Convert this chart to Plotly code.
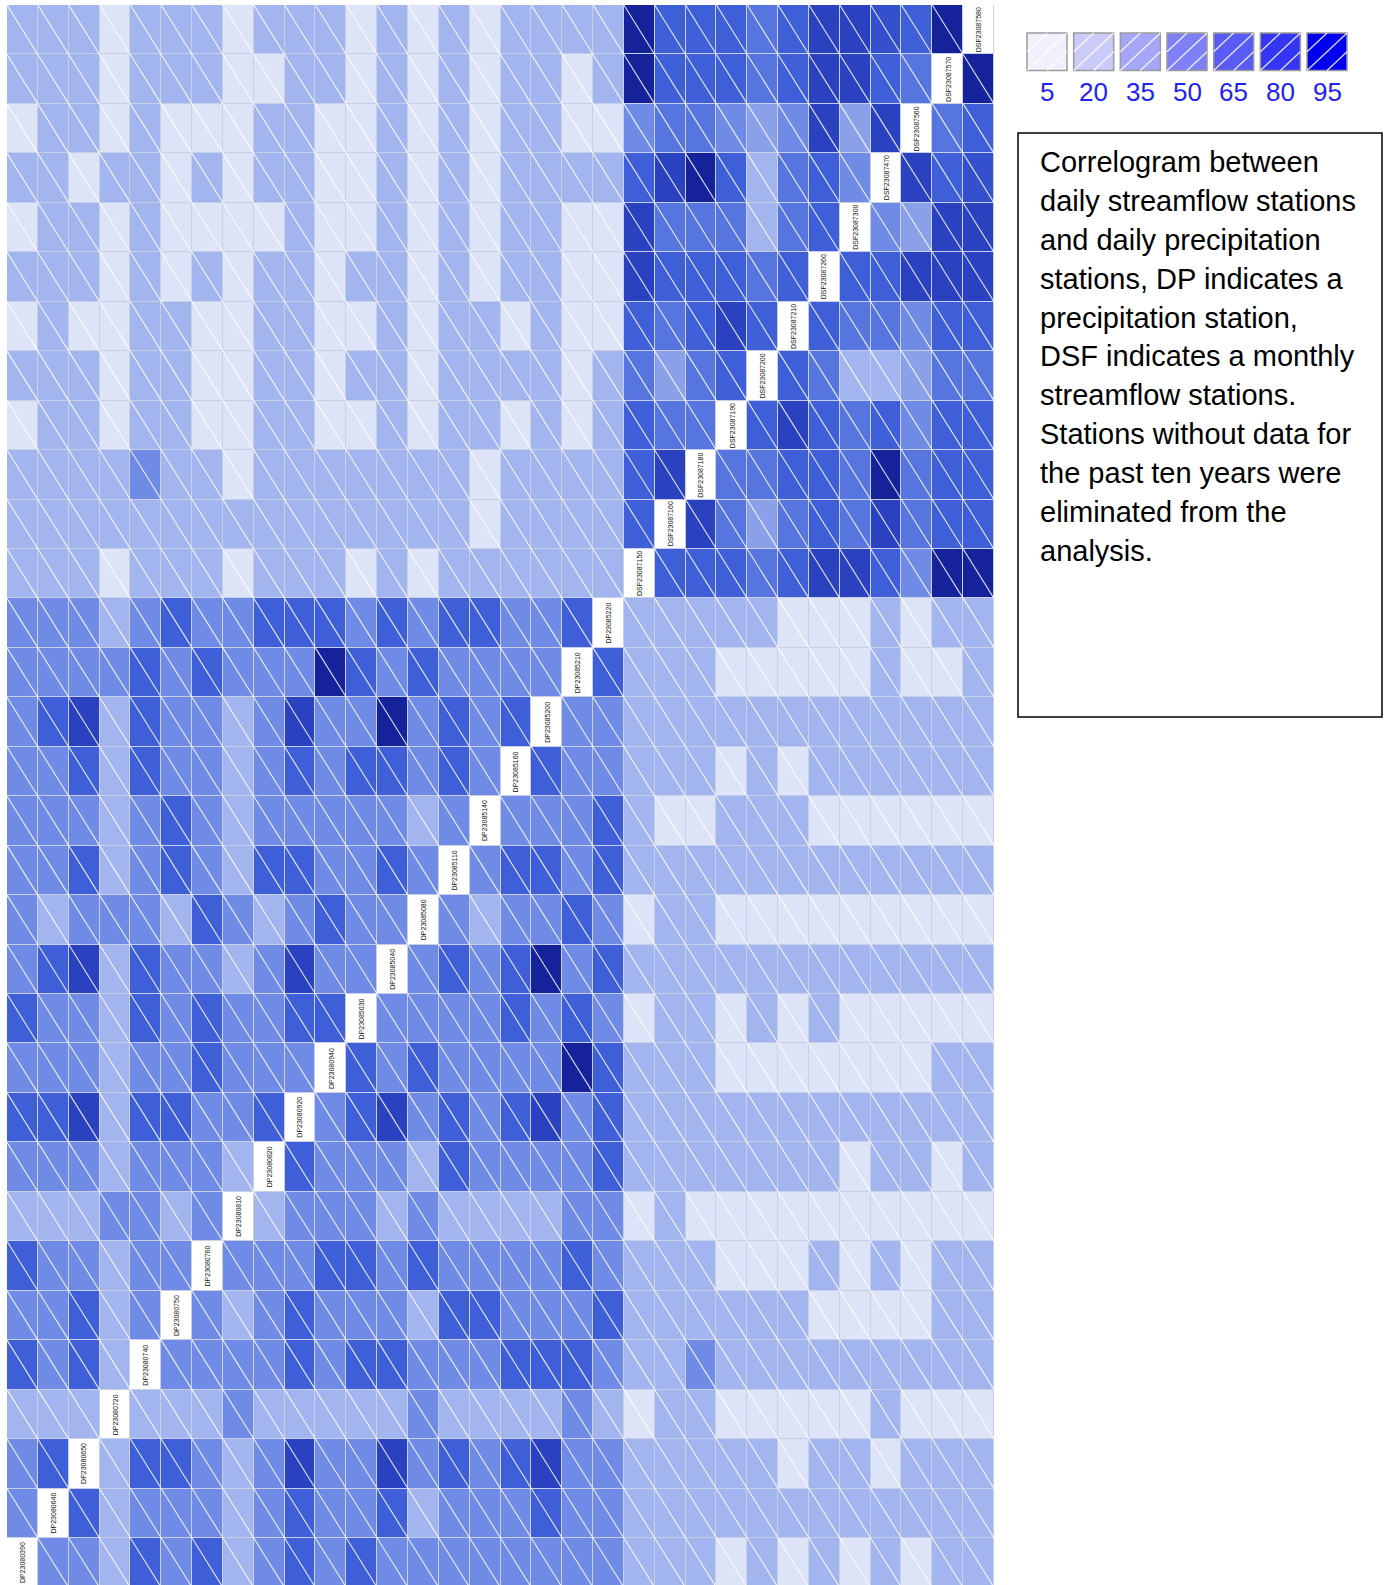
import plotly.graph_objects as go

# Station order along both axes (bottom-to-top on y, left-to-right on x)
stations = [
    "DP23080390", "DP23080640", "DP23080650", "DP23080720", "DP23080740",
    "DP23080750", "DP23080760", "DP23080810", "DP23080820", "DP23080920",
    "DP23080940", "DP23085030", "DP23085040", "DP23085080", "DP23085110",
    "DP23085140", "DP23085160", "DP23085200", "DP23085210", "DP23085220",
    "DSF23087150", "DSF23087160", "DSF23087180", "DSF23087190", "DSF23087200",
    "DSF23087210", "DSF23087260", "DSF23087300", "DSF23087470", "DSF23087560",
    "DSF23087570", "DSF23087580",
]

# Correlation (%) between precipitation stations; row i lists columns 0..i-1
dp_dp = [
    [45],
    [45, 60],
    [30, 30, 30],
    [60, 45, 60, 30],
    [45, 45, 60, 30, 45],
    [60, 45, 45, 30, 45, 45],
    [30, 30, 30, 45, 45, 30, 45],
    [45, 45, 45, 30, 45, 45, 45, 30],
    [60, 60, 73, 30, 60, 60, 45, 45, 60],
    [45, 45, 45, 30, 45, 45, 60, 45, 45, 45],
    [60, 45, 45, 30, 60, 45, 60, 45, 45, 60, 60],
    [45, 60, 73, 30, 60, 45, 45, 30, 45, 73, 45, 45],
    [45, 30, 45, 45, 45, 30, 60, 45, 30, 45, 60, 45, 45],
    [45, 45, 60, 30, 45, 60, 45, 30, 60, 60, 45, 45, 60, 45],
    [45, 45, 45, 30, 45, 60, 45, 30, 45, 45, 45, 45, 45, 30, 45],
    [45, 45, 60, 30, 60, 45, 45, 30, 45, 60, 45, 60, 60, 45, 60, 45],
    [45, 60, 73, 30, 60, 45, 45, 30, 45, 73, 45, 45, 88, 45, 60, 45, 60],
    [45, 45, 45, 45, 60, 45, 60, 45, 45, 45, 88, 60, 45, 60, 45, 45, 45, 45],
    [45, 45, 45, 30, 45, 60, 45, 45, 60, 60, 60, 45, 60, 45, 60, 60, 45, 45, 60],
]

# Correlation (%) of each streamflow station (DSF23087150..DSF23087580) with the 20 DP stations
dsf_dp = [
    [30, 30, 30, 12, 30, 30, 30, 12, 30, 30, 30, 12, 30, 12, 30, 30, 30, 30, 30, 30],
    [30, 30, 30, 30, 30, 30, 30, 30, 30, 30, 30, 30, 30, 30, 30, 12, 30, 30, 30, 30],
    [30, 30, 30, 30, 45, 30, 30, 12, 30, 30, 30, 30, 30, 30, 30, 12, 30, 30, 30, 30],
    [12, 30, 30, 12, 30, 30, 12, 12, 30, 30, 12, 12, 30, 12, 30, 30, 12, 30, 12, 30],
    [30, 30, 30, 12, 30, 30, 12, 12, 30, 30, 12, 30, 30, 12, 30, 30, 30, 30, 12, 30],
    [12, 30, 12, 12, 30, 30, 12, 12, 30, 30, 12, 12, 30, 12, 30, 30, 12, 30, 12, 12],
    [30, 30, 30, 12, 30, 12, 30, 12, 30, 30, 12, 30, 30, 12, 30, 12, 30, 30, 12, 12],
    [12, 30, 30, 12, 30, 12, 12, 12, 12, 30, 12, 12, 30, 12, 30, 12, 30, 30, 12, 12],
    [30, 30, 12, 30, 30, 12, 30, 12, 30, 30, 12, 12, 30, 12, 30, 12, 30, 30, 30, 30],
    [12, 30, 30, 12, 30, 12, 12, 12, 30, 30, 12, 12, 30, 12, 30, 12, 30, 30, 12, 12],
    [30, 30, 30, 12, 30, 30, 30, 12, 12, 30, 30, 12, 30, 12, 30, 12, 30, 30, 12, 30],
    [30, 30, 30, 12, 30, 30, 30, 12, 30, 30, 30, 12, 30, 12, 30, 12, 30, 30, 30, 30],
]

# Correlation (%) between streamflow stations; row k (station 21+k) lists DSF columns before it
dsf_dsf = [
    [60],
    [60, 73],
    [60, 52, 52],
    [52, 37, 52, 60],
    [60, 52, 60, 73, 60],
    [73, 60, 60, 60, 52, 60],
    [73, 52, 52, 52, 30, 52, 60],
    [60, 73, 88, 60, 30, 52, 60, 45],
    [45, 52, 52, 45, 37, 45, 73, 37, 73],
    [88, 60, 60, 60, 52, 60, 73, 73, 60, 52],
    [88, 60, 60, 60, 52, 60, 73, 73, 66, 60, 88],
]

legend_values = [5, 20, 35, 50, 65, 80, 95]
legend_colors = ["#f0f0fd", "#cbcbfa", "#a6a6f8", "#8080f6", "#5a5af5", "#3535f4", "#0000ee"]

caption_lines = [
    "Correlogram between",
    "daily streamflow stations",
    "and daily precipitation",
    "stations, DP indicates a",
    "precipitation station,",
    "DSF indicates a monthly",
    "streamflow stations.",
    "Stations without data for",
    "the past ten years were",
    "eliminated from the",
    "analysis.",
]

n = len(stations)
n_dp = 20

# assemble the symmetric matrix
M = [[None] * n for _ in range(n)]
for i, row in enumerate(dp_dp, start=1):
    for j, v in enumerate(row):
        M[i][j] = M[j][i] = v
for k, row in enumerate(dsf_dp):
    i = n_dp + k
    for j, v in enumerate(row):
        M[i][j] = M[j][i] = v
for k, row in enumerate(dsf_dsf):
    i = n_dp + 1 + k
    for jj, v in enumerate(row):
        j = n_dp + jj
        M[i][j] = M[j][i] = v

diag = [[1 if i == j else None for j in range(n)] for i in range(n)]

shade_scale = [
    [0.0, "#dde4f7"],
    [0.2368, "#a3b5ee"],
    [0.3289, "#8aa1ea"],
    [0.4342, "#6f8be6"],
    [0.5263, "#5675de"],
    [0.6316, "#3f5fd8"],
    [0.7105, "#3450cc"],
    [0.8026, "#2a42bf"],
    [1.0, "#15229a"],
]

idx = list(range(n))
fig = go.Figure()
fig.add_trace(go.Heatmap(
    z=M, x=idx, y=idx, zmin=12, zmax=88, colorscale=shade_scale,
    showscale=False, xgap=1, ygap=1, hoverongaps=False,
))
fig.add_trace(go.Heatmap(
    z=diag, x=idx, y=idx, zmin=0, zmax=1,
    colorscale=[[0, "#ffffff"], [1, "#ffffff"]],
    showscale=False, xgap=1, ygap=1, hoverinfo="skip",
))

# one white "\" stroke across every off-diagonal cell
hx, hy = [], []
for i in range(n):
    for j in range(n):
        if i == j:
            continue
        hx += [j - 0.5, j + 0.5, None]
        hy += [i + 0.5, i - 0.5, None]
fig.add_trace(go.Scatter(
    x=hx, y=hy, mode="lines", line=dict(color="rgba(255,255,255,0.85)", width=1.1),
    hoverinfo="skip", showlegend=False,
))

annotations = []
for k, name in enumerate(stations):
    annotations.append(dict(
        x=k, y=k, xref="x", yref="y", text=name, showarrow=False, textangle=-90,
        font=dict(family="Liberation Sans, Arial", size=7, color="#111111"),
    ))

# page-pixel helpers for the side panel
L, R, T, B = 7, 994, 5, 1585


def px(X):
    return (X - L) / (R - L)


def py(Y):
    return 1 - (Y - T) / (B - T)


shapes = []
sw_w, sw_h, sw_step, sw_x0, sw_y0 = 40, 37.5, 46.67, 1027, 33
for k, (val, col) in enumerate(zip(legend_values, legend_colors)):
    x0 = sw_x0 + k * sw_step
    x1 = x0 + sw_w
    y0, y1 = sw_y0, sw_y0 + sw_h
    shapes.append(dict(type="rect", xref="paper", yref="paper",
                       x0=px(x0), x1=px(x1), y0=py(y1), y1=py(y0),
                       fillcolor=col, line=dict(color="#9a9a9a", width=1.5), layer="above"))
    for d in (0.5, 0.0, -0.5):
        u0, u1 = max(0.0, -d), min(1.0, 1.0 - d)
        shapes.append(dict(type="line", xref="paper", yref="paper",
                           x0=px(x0 + u0 * sw_w), y0=py(y1 - (u0 + d) * sw_h),
                           x1=px(x0 + u1 * sw_w), y1=py(y1 - (u1 + d) * sw_h),
                           line=dict(color="rgba(255,255,255,0.85)", width=1.3), layer="above"))
    annotations.append(dict(
        x=px(x0 + sw_w / 2), y=py(92.5), xref="paper", yref="paper", text=str(val),
        showarrow=False, xanchor="center", yanchor="middle",
        font=dict(family="Liberation Sans, Arial", size=26, color="#2222f0"),
    ))

shapes.append(dict(type="rect", xref="paper", yref="paper",
                   x0=px(1018), x1=px(1382), y0=py(717), y1=py(133),
                   line=dict(color="#000000", width=1.5), fillcolor="rgba(0,0,0,0)"))
for k, line in enumerate(caption_lines):
    annotations.append(dict(
        x=px(1038), y=py(162 + k * 38.9), xref="paper", yref="paper", text=line,
        showarrow=False, xanchor="left", yanchor="middle",
        font=dict(family="Liberation Sans, Arial", size=29, color="#000000"),
    ))

row_h = 49.45
fig.update_layout(
    width=1390, height=1585,
    margin=dict(l=L, r=1390 - R, t=T, b=1585 - B, pad=0),
    paper_bgcolor="#ffffff", plot_bgcolor="#c9cfe4",
    xaxis=dict(range=[-0.5, n - 0.5], visible=False, fixedrange=True),
    yaxis=dict(range=[n - 0.5 - (B - T) / row_h, n - 0.5], visible=False, fixedrange=True),
    shapes=shapes, annotations=annotations, showlegend=False,
)

fig.write_html("out.html")
